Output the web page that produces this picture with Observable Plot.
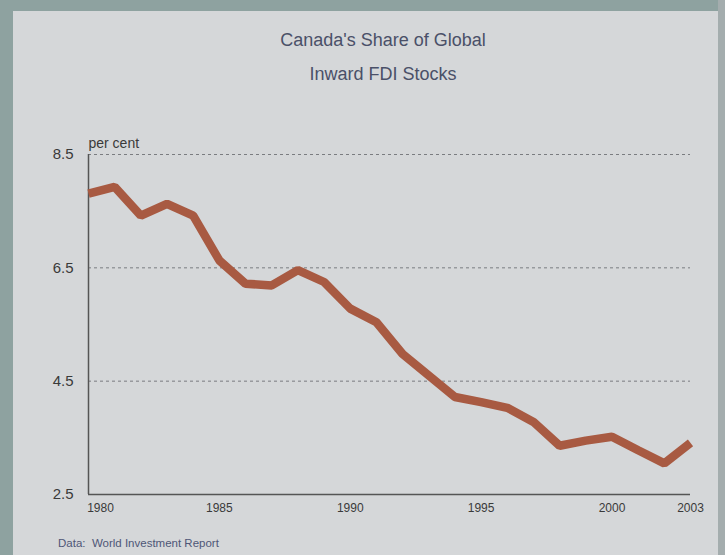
<!DOCTYPE html>
<html>
<head>
<meta charset="utf-8">
<script src="https://cdn.jsdelivr.net/npm/d3@7"></script>
<script src="https://cdn.jsdelivr.net/npm/@observablehq/plot@0.6"></script>
<style>
  html, body { margin: 0; padding: 0; }
  body { width: 725px; height: 555px; position: relative; overflow: hidden; background: #8ea2a0; font-family: "Liberation Sans", Arial, sans-serif; }
  #panel { position: absolute; left: 13px; top: 11px; width: 705px; height: 544px; background: #d5d7d9; }
  #edge { position: absolute; left: 718px; top: 0; width: 7px; height: 555px; background: #a4adae; }
  .title { position: absolute; left: 383px; transform: translateX(-50%); white-space: nowrap; font-size: 18px; line-height: 20px; color: #4a5068; }
  #caption { position: absolute; left: 58px; top: 536px; font-size: 11.5px; line-height: 14px; color: #4e5677; white-space: nowrap; }
  #chart { position: absolute; left: 0; top: 0; }
</style>
</head>
<body>
<div id="panel"></div>
<div id="edge"></div>
<div class="title" style="top:30px">Canada's Share of Global</div>
<div class="title" style="top:64px">Inward FDI Stocks</div>
<div id="chart"></div>
<div id="caption">Data:&nbsp; World Investment Report</div>
<script>
const years = [1980,1981,1982,1983,1984,1985,1986,1987,1988,1989,1990,1991,1992,1993,1994,1995,1996,1997,1998,1999,2000,2001,2002,2003];
const shares = [7.81,7.93,7.42,7.63,7.42,6.63,6.22,6.19,6.46,6.25,5.78,5.54,4.98,4.60,4.22,4.13,4.03,3.78,3.36,3.45,3.52,3.28,3.05,3.41];
const yTicks = [2.5,4.5,6.5,8.5];
const gridLines = [4.5,6.5,8.5];
const xTicks = [1985,1990,1995,2000,2003];
const firstYear = [1980];
const yLabel = "per cent";

const data = years.map((y, i) => ({year: y, share: shares[i]}));

const chart = Plot.plot({
  width: 725,
  height: 555,
  marginLeft: 88,
  marginRight: 35,
  marginTop: 154,
  marginBottom: 61,
  style: {background: "transparent", fontFamily: "'Liberation Sans', Arial, sans-serif", color: "#333"},
  x: {domain: [1980, 2003]},
  y: {domain: [2.5, 8.5]},
  marks: [
    Plot.ruleY(gridLines, {stroke: "#7a7c80", strokeWidth: 1, strokeDasharray: "3,3"}),
    Plot.axisY(yTicks, {tickSize: 0, tickPadding: 15, tickFormat: d => d.toFixed(1), fontSize: 15, label: null, fill: "#3a3a3a"}),
    Plot.axisX(xTicks, {tickSize: 0, tickPadding: 9, tickFormat: d => String(d), fontSize: 12, label: null, fill: "#3a3a3a"}),
    Plot.axisX(firstYear, {tickSize: 0, tickPadding: 9, tickFormat: d => String(d), fontSize: 12, label: null, dx: 12, fill: "#3a3a3a"}),
    Plot.ruleX([1980], {y1: 2.5, y2: 8.5, stroke: "#555", strokeWidth: 1.5}),
    Plot.ruleY([2.5], {x1: 1980, x2: 2003, stroke: "#555", strokeWidth: 1.5}),
    Plot.line(data, {x: "year", y: "share", stroke: "#a85a42", strokeWidth: 8.5, strokeLinejoin: "miter", strokeLinecap: "butt"}),
    Plot.text([yLabel], {x: () => 1980, y: () => 8.5, text: d => d, dy: -11, textAnchor: "start", fontSize: 14, fill: "#3a3a3a"})
  ]
});
document.getElementById("chart").appendChild(chart);
</script>
</body>
</html>
